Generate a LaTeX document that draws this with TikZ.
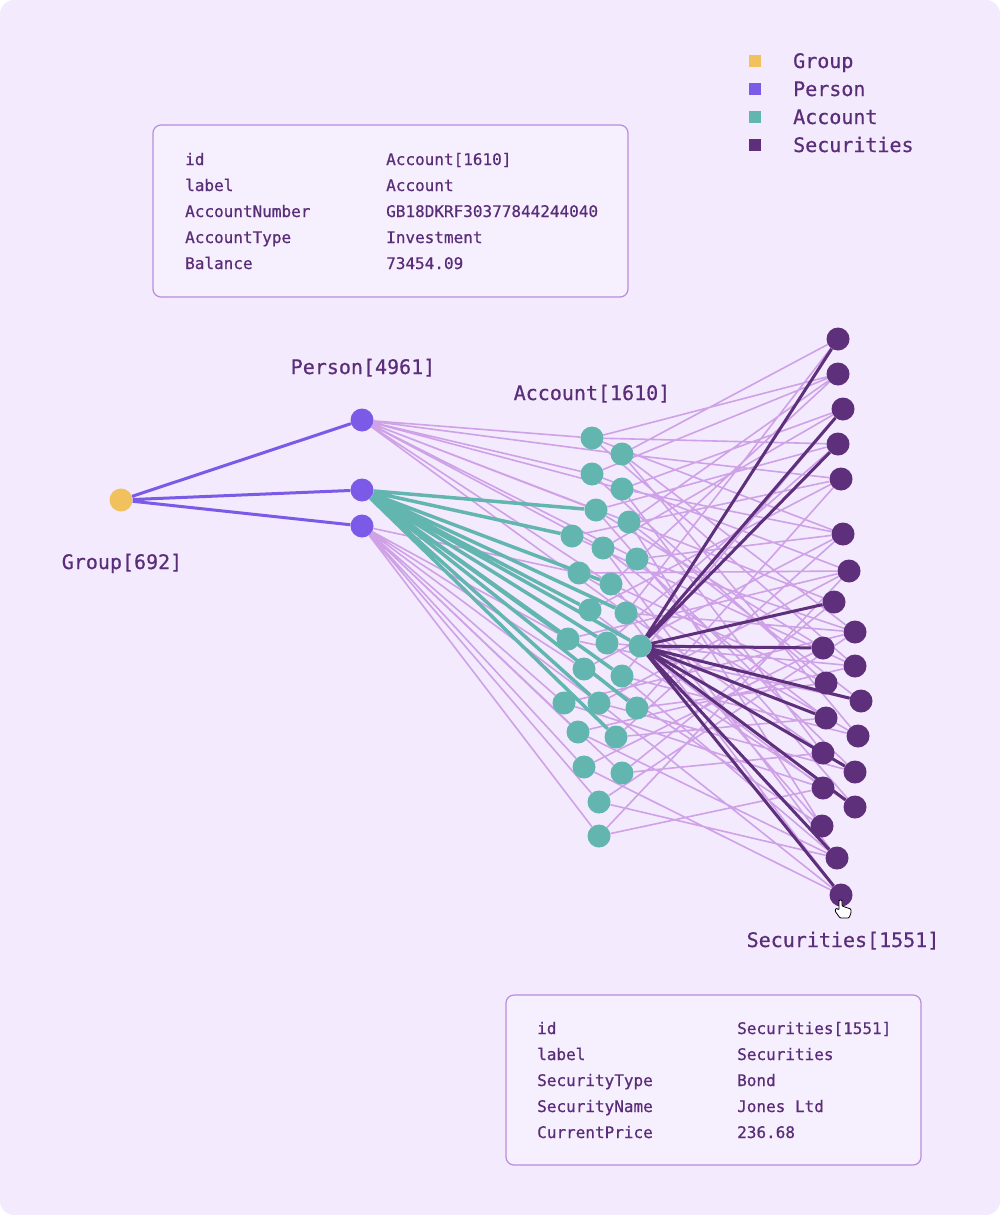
\documentclass[tikz,border=0pt]{standalone}
\usepackage{fontspec}
\setmainfont{DejaVu Sans Mono}[FakeBold=0.6]
\usetikzlibrary{backgrounds}
\definecolor{bgcol}{HTML}{F3EAFD}
\definecolor{tabcol}{HTML}{F6EFFE}
\definecolor{boxcol}{HTML}{B98BDD}
\definecolor{txtcol}{HTML}{5A2D78}
\definecolor{grpcol}{HTML}{F0C15C}
\definecolor{percol}{HTML}{7A5AE6}
\definecolor{acccol}{HTML}{62B6AF}
\definecolor{seccol}{HTML}{5E2F7A}
\definecolor{litecol}{HTML}{CFA2E8}

\begin{document}
\begin{tikzpicture}[x=1pt,y=-1pt,
  grp/.style={circle,fill=grpcol,minimum size=23pt,inner sep=0pt},
  per/.style={circle,fill=percol,minimum size=23pt,inner sep=0pt},
  acc/.style={circle,fill=acccol,minimum size=23pt,inner sep=0pt},
  sec/.style={circle,fill=seccol,minimum size=23pt,inner sep=0pt},
  lite/.style={draw=litecol,line width=1.6pt},
  tealedge/.style={draw=acccol,line width=3.5pt},
  darkedge/.style={draw=seccol,line width=3pt},
  peredge/.style={draw=percol,line width=3pt},
  lbl/.style={text=txtcol,font=\fontsize{20}{24}\selectfont,inner sep=0pt,anchor=base},
  leg/.style={text=txtcol,font=\fontsize{20}{24}\selectfont,inner sep=0pt,anchor=base west},
  row/.style={text=txtcol,font=\fontsize{16}{19}\selectfont,inner sep=0pt,anchor=base west},
  tabbox/.style={draw=boxcol,line width=1.2pt,rounded corners=8pt,fill=tabcol,inner sep=0pt},
  key/.style={minimum size=12pt,inner sep=0pt}]
\useasboundingbox (0,0) rectangle (1000,1215);

\node[key,fill=grpcol] (kg) at (755,61) {};
\node[key,fill=percol] (kp) at (755,89) {};
\node[key,fill=acccol] (ka) at (755,117) {};
\node[key,fill=seccol] (ks) at (755,145) {};
\node[leg] (tg) at (793,68) {Group};
\node[leg] (tp) at (793,96) {Person};
\node[leg] (ta) at (793,124) {Account};
\node[leg] (ts) at (793,152) {Securities};

\node[tabbox,minimum width=475pt,minimum height=172pt] (acctab) at (390.5,211) {};
\node[row] (ak1) at (185,165) {id};
\node[row] (ak2) at (185,191) {label};
\node[row] (ak3) at (185,217) {AccountNumber};
\node[row] (ak4) at (185,243) {AccountType};
\node[row] (ak5) at (185,269) {Balance};
\node[row] (av1) at (386,165) {Account[1610]};
\node[row] (av2) at (386,191) {Account};
\node[row] (av3) at (386,217) {GB18DKRF30377844244040};
\node[row] (av4) at (386,243) {Investment};
\node[row] (av5) at (386,269) {73454.09};

\node[tabbox,minimum width=415pt,minimum height=170pt] (sectab) at (713.5,1080) {};
\node[row] (sk1) at (537,1034) {id};
\node[row] (sk2) at (537,1060) {label};
\node[row] (sk3) at (537,1086) {SecurityType};
\node[row] (sk4) at (537,1112) {SecurityName};
\node[row] (sk5) at (537,1138) {CurrentPrice};
\node[row] (sv1) at (737,1034) {Securities[1551]};
\node[row] (sv2) at (737,1060) {Securities};
\node[row] (sv3) at (737,1086) {Bond};
\node[row] (sv4) at (737,1112) {Jones Ltd};
\node[row] (sv5) at (737,1138) {236.68};

\node[grp] (g1) at (121,500) {};
\node[per] (p1) at (362,420) {};
\node[per] (p2) at (362,490) {};
\node[per] (p3) at (362,526) {};

\node[acc] (a1) at (592,438) {};
\node[acc] (a2) at (622,454) {};
\node[acc] (a3) at (592,474) {};
\node[acc] (a4) at (622,489) {};
\node[acc] (a5) at (596,510) {};
\node[acc] (a6) at (629,522) {};
\node[acc] (a7) at (572,536) {};
\node[acc] (a8) at (603,548) {};
\node[acc] (a9) at (637,559) {};
\node[acc] (a10) at (579,573) {};
\node[acc] (a11) at (611,584) {};
\node[acc] (a12) at (590,610) {};
\node[acc] (a13) at (626,613) {};
\node[acc] (a14) at (568,639) {};
\node[acc] (a15) at (607,643) {};
\node[acc] (a16) at (640,646) {};
\node[acc] (a17) at (584,669) {};
\node[acc] (a18) at (622,676) {};
\node[acc] (a19) at (564,703) {};
\node[acc] (a20) at (599,703) {};
\node[acc] (a21) at (637,708) {};
\node[acc] (a22) at (578,732) {};
\node[acc] (a23) at (616,737) {};
\node[acc] (a24) at (584,767) {};
\node[acc] (a25) at (622,773) {};
\node[acc] (a26) at (599,802) {};
\node[acc] (a27) at (599,836) {};

\node[sec] (s1) at (838,339) {};
\node[sec] (s2) at (838,374) {};
\node[sec] (s3) at (843,409) {};
\node[sec] (s4) at (838,444) {};
\node[sec] (s5) at (841,479) {};
\node[sec] (s6) at (843,534) {};
\node[sec] (s7) at (849,571) {};
\node[sec] (s8) at (834,602) {};
\node[sec] (s9) at (855,632) {};
\node[sec] (s10) at (823,648) {};
\node[sec] (s11) at (855,666) {};
\node[sec] (s12) at (826,683) {};
\node[sec] (s13) at (861,701) {};
\node[sec] (s14) at (826,718) {};
\node[sec] (s15) at (858,736) {};
\node[sec] (s16) at (823,753) {};
\node[sec] (s17) at (855,772) {};
\node[sec] (s18) at (823,788) {};
\node[sec] (s19) at (855,807) {};
\node[sec] (s20) at (822,826) {};
\node[sec] (s21) at (837,858) {};
\node[sec] (s22) at (841,895) {};

\node[lbl] (lg) at (122,569) {Group[692]};
\node[lbl] (lp) at (363,374) {Person[4961]};
\node[lbl] (la) at (592,400) {Account[1610]};
\node[lbl] (ls) at (843,947) {Securities[1551]};

\draw[fill=white,line width=0.8pt,rounded corners=1pt] (839,900) -- (839,910) -- (836,908) -- (835,911) -- (840,918) -- (849,918) -- (851,913) -- (851,909) -- (842,906) -- (842,900) -- cycle;

\begin{scope}[on background layer]
\fill[bgcol,rounded corners=14pt] (0,0) rectangle (1000,1215);
\draw[lite] (p1) -- (a1) (p1) -- (a2) (p1) -- (a3) (p1) -- (a4) (p1) -- (a5)
  (p1) -- (a6) (p1) -- (a8) (p1) -- (a9) (p1) -- (a11) (p1) -- (a13);
\draw[lite] (p3) -- (a10) (p3) -- (a14) (p3) -- (a17) (p3) -- (a19) (p3) -- (a20)
  (p3) -- (a22) (p3) -- (a24) (p3) -- (a25) (p3) -- (a26) (p3) -- (a27);
\draw[lite] (a1) -- (s2) (a1) -- (s4) (a1) -- (s6) (a1) -- (s11)
  (a2) -- (s1) (a2) -- (s5) (a2) -- (s9) (a2) -- (s15)
  (a3) -- (s2) (a3) -- (s7) (a3) -- (s12)
  (a4) -- (s3) (a4) -- (s6) (a4) -- (s16)
  (a5) -- (s4) (a5) -- (s10) (a5) -- (s19)
  (a6) -- (s2) (a6) -- (s8) (a6) -- (s13) (a6) -- (s20)
  (a7) -- (s5) (a7) -- (s11)
  (a8) -- (s3) (a8) -- (s14) (a8) -- (s21)
  (a9) -- (s6) (a9) -- (s9) (a9) -- (s17)
  (a10) -- (s7) (a10) -- (s15)
  (a11) -- (s2) (a11) -- (s12) (a11) -- (s20)
  (a12) -- (s5) (a12) -- (s18)
  (a13) -- (s1) (a13) -- (s9) (a13) -- (s16) (a13) -- (s22)
  (a14) -- (s7) (a14) -- (s13)
  (a15) -- (s4) (a15) -- (s11) (a15) -- (s19)
  (a17) -- (s6) (a17) -- (s20)
  (a18) -- (s3) (a18) -- (s15) (a18) -- (s21)
  (a19) -- (s9) (a19) -- (s18)
  (a20) -- (s7) (a20) -- (s17) (a20) -- (s22)
  (a21) -- (s5) (a21) -- (s12)
  (a22) -- (s11) (a22) -- (s21)
  (a23) -- (s6) (a23) -- (s14)
  (a24) -- (s10) (a24) -- (s22)
  (a25) -- (s8) (a25) -- (s16)
  (a26) -- (s9) (a26) -- (s21)
  (a27) -- (s7) (a27) -- (s18);
\draw[tealedge] (p2) -- (a5) (p2) -- (a7) (p2) -- (a11) (p2) -- (a12) (p2) -- (a13)
  (p2) -- (a14) (p2) -- (a15) (p2) -- (a16) (p2) -- (a18) (p2) -- (a20)
  (p2) -- (a21) (p2) -- (a23);
\draw[darkedge] (a16) -- (s1) (a16) -- (s3) (a16) -- (s4) (a16) -- (s8) (a16) -- (s10)
  (a16) -- (s13) (a16) -- (s14) (a16) -- (s17) (a16) -- (s19) (a16) -- (s21) (a16) -- (s22);
\draw[peredge] (g1) -- (p1) (g1) -- (p2) (g1) -- (p3);
\end{scope}
\end{tikzpicture}
\end{document}
